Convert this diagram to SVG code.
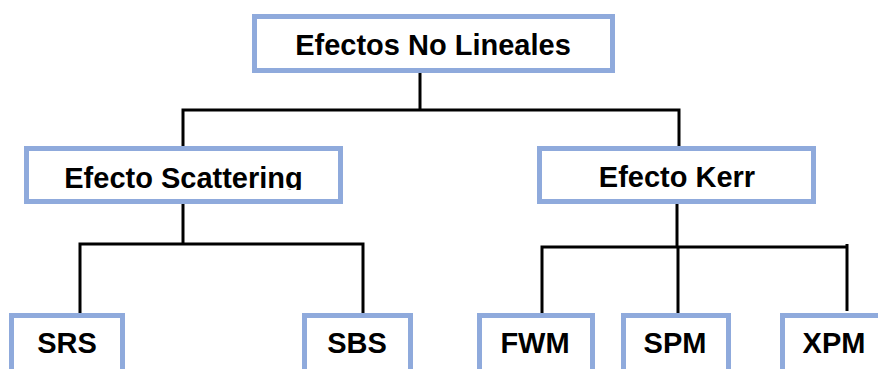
<svg xmlns="http://www.w3.org/2000/svg" width="878" height="369" viewBox="0 0 878 369">
<style>
.box{fill:#fff;stroke:#8FAADC;stroke-width:5}
.lbl{font-family:"Liberation Sans",Arial,sans-serif;font-weight:bold;font-size:29px;fill:#000;text-anchor:middle}
.con{fill:none;stroke:#000;stroke-width:3}
</style>
<defs>
<clipPath id="clipScat"><rect x="0" y="140" width="400" height="50"/></clipPath>
</defs>
<rect width="878" height="369" fill="#fff"/>
<g id="connectors">
<polyline class="con" points="420,72 420,110"/>
<polyline class="con" points="183,148 183,110 679,110 679,148"/>
<polyline class="con" points="183,204 183,244"/>
<polyline class="con" points="80,313 80,244 363,244 363,313"/>
<polyline class="con" points="677,204 677,247"/>
<polyline class="con" points="542,313 542,247 847,247"/>
<polyline class="con" points="678,247 678,313"/>
<polyline class="con" points="847,244 847,311"/>
</g>
<g id="n-root"><rect class="box" x="254.5" y="16.5" width="358" height="54"/><text class="lbl" x="433" y="55">Efectos No Lineales</text></g>
<g id="n-scattering"><rect class="box" x="26.5" y="148.5" width="314" height="53"/><text class="lbl" x="183.5" y="188" clip-path="url(#clipScat)">Efecto Scattering</text></g>
<g id="n-kerr"><rect class="box" x="539.5" y="148.5" width="274" height="53"/><text class="lbl" x="677" y="187">Efecto Kerr</text></g>
<g id="n-srs"><rect class="box" x="11.5" y="315.5" width="111" height="70"/><text class="lbl" x="67" y="353">SRS</text></g>
<g id="n-sbs"><rect class="box" x="304.5" y="315.5" width="106" height="70"/><text class="lbl" x="357" y="353">SBS</text></g>
<g id="n-fwm"><rect class="box" x="479.5" y="315.5" width="113" height="70"/><text class="lbl" x="535" y="353">FWM</text></g>
<g id="n-spm"><rect class="box" x="623.5" y="315.5" width="105" height="70"/><text class="lbl" x="675" y="353">SPM</text></g>
<g id="n-xpm"><rect class="box" x="782.5" y="315.5" width="110" height="70"/><text class="lbl" x="834" y="353">XPM</text></g>
</svg>
